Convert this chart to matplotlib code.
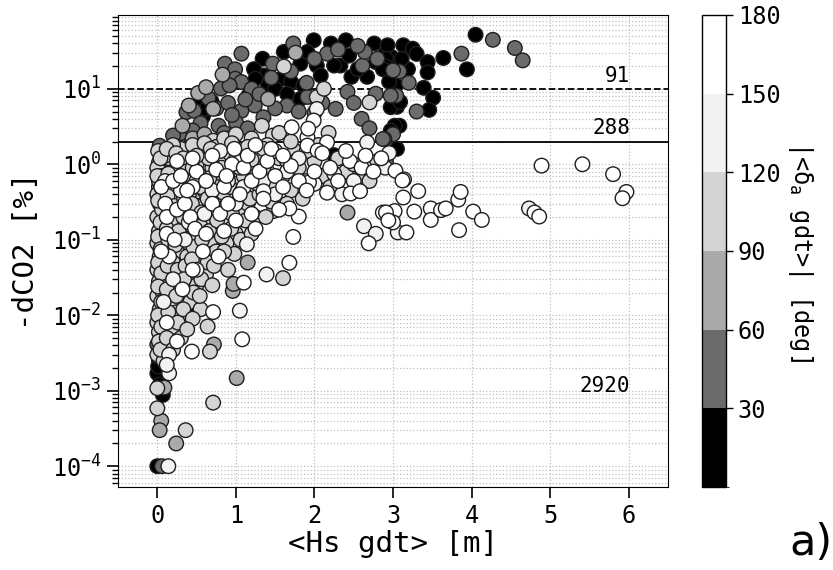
import numpy as np
import matplotlib
matplotlib.use('Agg')
import matplotlib.pyplot as plt
from matplotlib.colors import ListedColormap, BoundaryNorm
from matplotlib.ticker import LogLocator, NullFormatter

plt.rcParams['font.family'] = ['DejaVu Sans Mono', 'DejaVu Sans']
plt.rcParams['mathtext.default'] = 'regular'

# ---------------- data (Hs, -dCO2) per angle class ----------------
angle_bounds = [0, 30, 60, 90, 120, 150, 180]
angle_ticks = [30, 60, 90, 120, 150, 180]
class_angles = [15, 45, 75, 105, 135, 165]
class_colors = ['#000000', '#6b6b6b', '#aaaaaa', '#d4d4d4', '#f2f2f2', '#ffffff']

pts_000_030 = [
    (4.05, 52), (3.94, 18.1), (3.64, 25.6), (3.39, 10.3), (3.51, 7.6), (3.46, 5.26),
    (3.05, 5.77), (3.08, 3.24), (1.34, 25), (1.61, 30.8), (1.58, 13.6), (1.35, 15),
    (1.23, 18.2), (1.82, 21.5), (1.99, 43.9), (2.21, 39.8), (2.40, 43.9), (2.33, 20.3),
    (2.44, 27.5), (2.67, 14.4), (2.76, 39.8), (2.91, 30.8), (2.98, 26.4), (2.97, 5.7),
    (3.02, 3.24), (2.25, 1.32), (0.69, 6.8), (0.58, 4.3), (0.25, 2.3),
    (2.93, 37.7), (3.13, 37.7), (3.25, 34), (3.30, 29), (3.44, 22.6), (3.44, 16.5),
    (3.19, 18.2), (3.11, 24.9), (2.91, 25), (2.91, 19.7), (2.97, 14.4), (3.04, 11.1),
    (3.09, 6.7), (1.91, 30.8), (2.03, 20.3), (2.25, 20.3), (2.08, 15), (2.47, 14.4),
    (2.55, 18.2), (2.78, 22.6), (2.87, 18.2), (2.95, 12.4), (2.97, 2.78),
    (1.25, 13.6), (1.41, 11.1), (1.50, 10), (1.16, 8.1), (0.54, 6.3), (0.62, 5.4),
    (1.70, 12.4), (1.86, 11.1), (1.65, 8.6), (1.82, 7.35), (3.05, 1.6),
    (0.45, 0.0131), (0.00, 0.0017), (0.02, 0.0025), (0.03, 0.0012), (0.07, 0.00088),
    (0.00, 0.0001), (0.01, 0.0021),
]

pts_030_060 = [
    (4.27, 44.6), (4.55, 34.7), (4.65, 23.8), (3.87, 29.2), (3.04, 8.1), (3.08, 17),
    (3.00, 2.5), (2.89, 2.16), (2.91, 1.07), (1.07, 29.2), (0.86, 21.5), (0.99, 18.1),
    (0.81, 10.1), (0.99, 13.6), (1.07, 12.3), (1.20, 10), (1.47, 21.5), (1.73, 39.8),
    (2.16, 29.2), (2.61, 20.3), (2.64, 30.8), (3.00, 17.5), (2.42, 9.1), (2.78, 8.6),
    (2.97, 8.1), (2.87, 2.16), (2.27, 5.42), (1.91, 7.8), (1.65, 6.0), (1.24, 6.0),
    (1.07, 5.1), (1.00, 3.6), (0.78, 3.24), (0.37, 4.9), (0.26, 1.95), (0.09, 1.44),
    (0.03, 1.76), (0.00, 0.0041), (0.06, 0.0001),
    (0.92, 11.1), (0.30, 2.6), (0.47, 5.1), (0.65, 7.5), (0.75, 5.5), (0.90, 6.5),
    (0.95, 4.5), (1.12, 7.2), (1.30, 8.5), (0.55, 3.5), (0.45, 2.8), (0.85, 2.6),
    (1.15, 3.0), (1.35, 4.2), (1.50, 5.5), (1.80, 5.0), (2.00, 4.8), (2.10, 6.5),
    (2.50, 6.5), (2.60, 4.0), (0.20, 2.4), (0.15, 1.6), (0.30, 1.2), (0.50, 1.5),
    (1.45, 14), (1.70, 17), (2.00, 25), (2.30, 33), (2.55, 37), (1.90, 12),
    (2.80, 25), (3.20, 12), (3.30, 5), (2.70, 3.0),
    (0.02, 0.0028), (0.05, 0.0065), (0.40, 0.009),
]

pts_060_090 = [
    (0.83, 15.4), (0.52, 8.8), (0.62, 10.5), (0.71, 5.42), (1.76, 30.1), (1.41, 7.35),
    (0.32, 3.24), (1.01, 0.00147), (0.09, 0.0011), (0.05, 0.0004), (0.03, 0.0003),
    (0.24, 0.0002), (0.72, 0.0041), (0.96, 0.021), (0.97, 0.026), (1.15, 0.05),
    (2.42, 0.229), (0.40, 6.0), (0.20, 1.5), (0.45, 2.2), (0.60, 2.5), (0.90, 2.2),
    (0.35, 1.0), (0.10, 0.9), (0.50, 0.35), (0.20, 0.15), (0.30, 0.08), (0.10, 0.05),
    (0.05, 0.02), (0.15, 0.008), (0.40, 0.03), (0.70, 0.12), (0.60, 0.3), (0.80, 0.6),
    (1.30, 0.6), (1.10, 0.25), (0.65, 0.06), (0.05, 0.006), (0.20, 0.004), (0.10, 0.25),
    (0.02, 0.5), (0.55, 0.03), (0.45, 0.07),
]

pts_090_120 = [
    (1.61, 19.7), (2.70, 6.6), (2.03, 7.76), (2.12, 10), (0.71, 2.05), (1.33, 3.24),
    (1.47, 2.4), (2.05, 1.8), (0.02, 1.05), (0.04, 0.8), (0.00, 0.00108), (0.00, 0.000585),
    (0.36, 0.0003), (0.71, 0.000695), (0.67, 0.0033), (0.64, 0.0071), (1.60, 0.031),
    (1.48, 0.24), (1.48, 0.49), (2.18, 2.6),
    (0.00, 0.9), (0.02, 0.6), (0.00, 0.4), (0.03, 0.3), (0.00, 0.2), (0.02, 0.13),
    (0.00, 0.09), (0.03, 0.06), (0.00, 0.04), (0.02, 0.028), (0.00, 0.018), (0.03, 0.012),
    (0.00, 0.008), (0.02, 0.006), (0.05, 0.0045), (0.00, 0.003), (0.08, 0.0025),
    (0.06, 0.7), (0.08, 0.45), (0.06, 0.25), (0.09, 0.16), (0.07, 0.1), (0.10, 0.07),
    (0.06, 0.045), (0.09, 0.03), (0.07, 0.02), (0.10, 0.014), (0.06, 0.009), (0.10, 0.006),
    (0.15, 1.2), (0.20, 0.8), (0.18, 0.5), (0.25, 0.35), (0.15, 0.25), (0.22, 0.18),
    (0.30, 0.12), (0.17, 0.09), (0.25, 0.07), (0.20, 0.05), (0.30, 0.04), (0.15, 0.035),
    (0.22, 0.025), (0.30, 0.02), (0.18, 0.015), (0.25, 0.011), (0.35, 0.008), (0.20, 0.007),
    (0.30, 0.005), (0.15, 0.0045),
    (0.35, 0.6), (0.40, 0.4), (0.38, 0.25), (0.32, 0.55), (0.28, 0.9), (0.40, 1.3),
    (0.35, 0.16), (0.40, 0.09), (0.38, 0.06), (0.42, 0.015),
    (0.50, 1.0), (0.55, 0.7), (0.60, 0.45), (0.50, 0.28), (0.65, 0.2), (0.55, 0.15),
    (0.48, 0.11), (0.60, 0.08), (0.52, 0.05), (0.62, 0.035), (0.50, 0.025), (0.55, 0.012),
    (0.70, 0.9), (0.75, 0.5), (0.80, 0.32), (0.72, 0.22), (0.78, 0.15), (0.68, 0.1),
    (0.75, 0.07), (0.58, 1.5), (0.80, 1.2),
    (0.90, 0.8), (1.00, 0.55), (0.95, 0.35), (1.05, 0.25), (0.90, 0.18), (1.00, 0.12),
    (0.88, 0.09), (1.10, 0.7), (1.20, 0.45), (1.15, 0.3), (1.25, 0.2), (0.92, 1.4),
    (1.10, 1.6), (1.25, 1.0), (0.98, 0.065),
    (1.40, 0.8), (1.50, 0.5), (1.45, 0.32), (1.60, 0.7), (1.70, 0.45), (1.55, 1.2),
    (1.80, 0.9), (1.65, 0.3), (1.90, 0.6), (2.00, 1.1), (2.10, 0.7), (1.75, 1.5),
    (1.30, 1.3), (1.85, 0.35),
    (2.30, 1.2), (2.40, 0.8), (2.60, 0.7), (2.50, 1.0), (2.70, 0.6), (2.80, 1.1),
    (2.20, 0.5), (2.55, 0.45),
    (0.30, 1.6), (0.45, 1.8), (0.60, 1.9), (0.75, 1.7), (0.85, 2.2), (1.00, 2.5),
    (1.20, 2.2), (1.40, 1.8), (1.55, 2.6), (1.70, 2.0), (1.90, 1.5), (0.20, 1.8),
    (0.10, 1.3),
    (0.01, 1.5), (0.04, 1.2), (0.00, 0.7), (0.05, 0.5), (0.01, 0.33), (0.04, 0.17),
    (0.01, 0.11), (0.04, 0.075), (0.01, 0.05), (0.05, 0.036), (0.01, 0.024), (0.05, 0.015),
    (0.01, 0.01), (0.05, 0.007), (0.02, 0.0045), (0.04, 0.0035),
    (0.12, 1.6), (0.14, 0.75), (0.13, 0.38), (0.12, 0.14), (0.14, 0.1), (0.13, 0.045),
    (0.12, 0.022), (0.14, 0.011), (0.12, 0.005), (0.24, 1.4), (0.26, 0.6), (0.22, 0.28),
    (0.27, 0.13), (0.23, 0.085), (0.26, 0.04), (0.24, 0.018), (0.26, 0.008), (0.20, 0.0035),
    (0.33, 1.2), (0.36, 0.8), (0.34, 0.35), (0.33, 0.2), (0.36, 0.045), (0.34, 0.03),
    (0.33, 0.012), (0.45, 0.9), (0.46, 0.6), (0.44, 0.3), (0.46, 0.08), (0.44, 0.055),
    (0.46, 0.02), (0.45, 0.009), (0.55, 0.5), (0.56, 0.23), (0.57, 0.1), (0.56, 0.03),
    (0.54, 0.018), (0.38, 0.0065),
    (0.65, 1.2), (0.66, 0.65), (0.64, 0.35), (0.66, 0.13), (0.64, 0.05), (0.70, 0.025),
    (0.74, 0.38), (0.76, 0.18), (0.72, 0.045), (0.82, 0.9), (0.84, 0.42), (0.83, 0.25),
    (0.82, 0.11), (0.85, 0.07), (0.92, 0.5), (0.95, 0.22), (0.94, 0.14), (0.90, 0.04),
    (1.05, 0.9), (1.08, 0.45), (1.12, 0.18), (1.06, 0.1), (1.18, 0.35), (1.20, 0.12),
    (1.30, 0.4), (1.35, 0.9), (1.28, 0.55), (1.38, 0.2),
    (0.50, 1.3), (0.68, 1.6), (0.95, 1.9), (1.15, 1.7), (1.35, 1.6), (1.50, 1.5),
    (1.65, 1.1), (1.20, 1.15),
]

pts_120_150 = [
    (2.95, 1.41), (2.67, 1.95), (4.73, 0.26), (1.05, 0.0115), (1.39, 0.0347),
    (2.63, 0.151), (2.78, 0.12), (2.35, 0.40), (1.14, 0.087), (0.14, 0.0001),
    (0.15, 0.0017), (2.03, 5.4), (3.06, 0.125),
    (0.10, 0.6), (0.30, 0.45), (0.50, 0.6), (0.70, 0.45), (0.90, 0.6), (1.10, 0.5),
    (1.35, 0.6), (1.65, 0.8), (2.00, 0.55), (2.25, 0.75), (0.40, 0.17), (0.60, 0.22),
    (0.20, 0.03), (0.08, 0.015), (0.35, 0.1), (1.00, 0.3), (1.50, 0.4), (2.50, 0.6),
    (2.90, 0.9), (0.15, 0.003), (0.12, 0.0022), (1.80, 1.2), (0.80, 1.5), (0.50, 0.04),
]

pts_150_180 = [
    (3.03, 0.82), (3.14, 0.63), (4.89, 0.96), (5.41, 1.0), (5.80, 0.74), (5.97, 0.43),
    (5.92, 0.355), (4.80, 0.23), (4.86, 0.203), (3.84, 0.134), (4.02, 0.236),
    (4.13, 0.183), (3.83, 0.34), (3.86, 0.43), (3.48, 0.26), (3.48, 0.183), (3.61, 0.247),
    (3.67, 0.26), (3.32, 0.44), (3.27, 0.236), (3.02, 0.24), (3.17, 0.125), (3.00, 0.17),
    (3.13, 0.363), (3.12, 0.61), (1.08, 0.0048), (0.44, 0.0033), (0.71, 0.011),
    (1.10, 0.027), (1.68, 0.0496), (1.73, 0.109), (2.69, 0.0897), (2.87, 0.229),
    (2.91, 0.23), (2.94, 0.18), (2.46, 0.41), (2.58, 0.44), (2.16, 0.42), (1.93, 0.576),
    (1.80, 0.203), (1.68, 0.26), (1.35, 0.44), (0.99, 1.11), (1.05, 1.07), (1.91, 2.28),
    (1.71, 3.09), (1.99, 3.8), (2.16, 1.95), (1.91, 1.77), (1.92, 2.96), (2.04, 1.52),
    (0.05, 0.5), (0.10, 0.3), (0.12, 0.2), (0.12, 0.12),
    (0.20, 0.6), (0.25, 0.25), (0.30, 0.7), (0.35, 0.3),
    (0.15, 0.06), (0.22, 0.1), (0.32, 0.022), (0.12, 0.008),
    (0.25, 0.0045), (0.45, 0.5), (0.50, 0.8), (0.42, 0.2), (0.48, 0.14),
    (0.62, 0.6), (0.70, 0.3), (0.58, 0.07), (0.45, 0.04),
    (0.75, 0.85), (0.85, 0.5), (0.80, 0.22), (0.70, 1.3), (0.90, 0.3),
    (0.95, 1.0), (1.05, 0.4), (1.00, 0.18), (1.10, 0.9), (1.20, 0.6), (1.30, 0.8),
    (1.15, 1.3), (1.40, 1.1), (1.50, 0.7), (1.35, 0.35), (1.60, 0.5), (1.70, 0.95),
    (1.80, 0.6), (1.45, 1.6), (1.60, 1.3), (2.00, 0.8), (2.20, 0.9), (2.30, 0.6),
    (2.45, 1.1), (2.60, 0.9), (2.75, 0.8), (2.85, 1.2), (2.10, 1.4), (2.40, 1.5),
    (2.65, 1.3), (1.90, 0.45), (1.55, 0.25), (1.20, 0.22), (0.85, 0.13),
    (0.05, 0.07), (0.78, 0.06), (1.25, 0.14), (0.62, 0.12),
    (0.38, 0.45), (0.88, 0.7), (0.25, 1.1), (0.45, 1.2), (0.98, 1.6),
    (1.25, 1.8),
]

count_labels = ['91', '288', '2920']
thresholds = [10, 2]

# ---------------- assemble ----------------
groups = [pts_000_030, pts_030_060, pts_060_090, pts_090_120, pts_120_150, pts_150_180]
hs, dco2, ang = [], [], []
for g, a in zip(groups, class_angles):
    for x, y in g:
        hs.append(x)
        dco2.append(y)
        ang.append(a)
hs = np.array(hs)
dco2 = np.array(dco2)
ang = np.array(ang)

cmap = ListedColormap(class_colors)
norm = BoundaryNorm(angle_bounds, cmap.N)

fig = plt.figure(figsize=(8.33, 5.70), dpi=100)
ax = fig.add_axes([0.1417, 0.1456, 0.6603, 0.8281])
cax = fig.add_axes([0.8427, 0.1456, 0.0288, 0.8281])

ax.set_axisbelow(True)
ax.grid(which='major', axis='both', ls=':', color='#c0c0c0', lw=0.9, zorder=0)
ax.grid(which='minor', axis='y', ls=':', color='#c0c0c0', lw=0.9, zorder=0)

ax.axhline(thresholds[0], color='k', ls='--', lw=1.3, zorder=1)
ax.axhline(thresholds[1], color='k', ls='-', lw=1.3, zorder=1)

sc = ax.scatter(hs, dco2, c=ang, cmap=cmap, norm=norm, s=110,
                edgecolors='#1e1e1e', linewidths=1.0, zorder=3)

ax.set_yscale('log')
ax.set_xlim(-0.5, 6.5)
ax.set_ylim(5.3e-5, 95)
ax.yaxis.set_major_locator(LogLocator(base=10, numticks=100))
ax.yaxis.set_minor_locator(LogLocator(base=10, subs=np.arange(2, 10), numticks=100))
ax.yaxis.set_minor_formatter(NullFormatter())
ax.set_xticks([0, 1, 2, 3, 4, 5, 6])

ax.tick_params(which='major', length=8, width=1.2, labelsize=17, pad=4)
ax.tick_params(which='minor', length=4, width=1.0)

ax.set_xlabel('<Hs gdt> [m]', fontsize=21, labelpad=2)
ax.set_ylabel('-dCO2 [%]', fontsize=21, labelpad=8)

ax.text(6.02, 11.0, count_labels[0], ha='right', va='bottom', fontsize=15, zorder=4)
ax.text(6.02, 2.2, count_labels[1], ha='right', va='bottom', fontsize=15, zorder=4)
ax.text(6.02, 1.16e-3, count_labels[2], ha='right', va='center', fontsize=15, zorder=4)

cb = fig.colorbar(sc, cax=cax, ticks=angle_ticks)
cb.ax.tick_params(labelsize=17, length=5, width=1.0)
cb.outline.set_linewidth(1.0)
cb.set_label(r'|<$\delta_a$ gdt>| [deg]', rotation=270, fontsize=17, labelpad=25)

fig.text(0.999, 0.01, 'a)', ha='right', va='bottom', fontsize=31, family='DejaVu Sans')

fig.savefig('out.png', dpi=100)
